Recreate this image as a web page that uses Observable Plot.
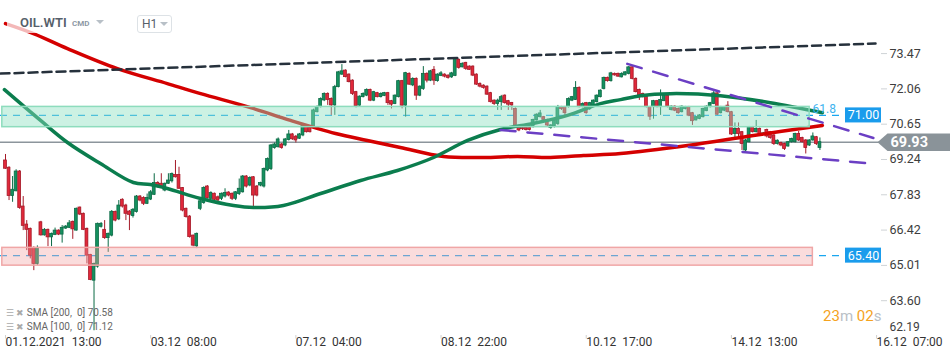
<!DOCTYPE html>
<html><head><meta charset="utf-8">
<script src="https://cdn.jsdelivr.net/npm/d3@7"></script>
<script src="https://cdn.jsdelivr.net/npm/@observablehq/plot@0.6"></script>
<style>
body{margin:0;background:#fff;font-family:Roboto,"Open Sans",sans-serif;}
#wrap{position:relative;width:950px;height:361px;overflow:hidden;background:#fff;}
.ov{position:absolute;white-space:pre;font-family:Roboto,sans-serif;}
.tri{position:absolute;width:0;height:0;border-left:4px solid transparent;border-right:4px solid transparent;border-top:4px solid #b8c0c7;}
</style></head><body><div id="wrap"></div>
<script>
// ---------- data ----------
const open = [
69.20,68.91,67.78,67.97,68.76,67.36,66.64,66.47,65.71,65.07,
66.73,66.21,66.43,66.13,66.23,66.40,66.24,66.48,66.51,66.75,
66.40,67.32,67.07,66.47,65.43,64.40,64.96,66.55,66.43,66.10,
66.20,67.14,66.85,67.63,67.40,67.16,66.98,67.14,67.76,67.70,
67.47,67.64,67.83,68.30,68.27,68.00,68.27,68.37,68.62,68.62,
68.10,67.27,66.96,66.20,65.77,67.27,67.50,68.16,67.67,67.87,
67.73,67.67,67.76,67.92,67.87,67.67,67.86,67.93,68.56,68.20,
68.53,68.16,68.20,68.16,68.80,68.86,69.70,69.73,69.84,69.80,
70.02,70.24,70.15,70.07,70.20,70.53,70.53,70.53,71.13,71.33,
71.60,71.86,71.66,71.40,72.13,72.63,72.79,72.63,72.39,71.93,
71.39,71.73,71.79,72.02,71.59,71.89,71.73,71.78,71.89,71.57,
71.46,71.73,72.37,71.39,72.66,72.20,72.46,71.79,72.06,72.66,
72.39,72.82,72.37,72.58,72.63,72.59,72.52,72.58,73.22,72.92,
73.10,72.95,72.95,72.63,72.26,72.19,72.15,71.89,71.59,71.46,
71.53,71.79,71.57,71.50,71.26,70.53,70.50,70.50,70.50,70.53,
70.80,70.93,70.93,70.82,70.50,70.56,70.66,71.33,71.33,71.33,
71.59,71.62,72.10,71.33,71.49,71.26,71.39,71.53,71.73,72.06,
72.50,72.37,72.66,72.66,72.52,72.60,72.66,72.92,72.46,72.02,
71.86,71.75,71.33,71.33,71.57,71.33,71.57,71.79,71.22,71.35,
71.26,71.13,71.26,71.33,71.09,70.80,70.86,70.93,71.17,71.33,
71.46,71.88,71.09,71.19,71.39,71.13,70.26,70.46,70.33,69.60,
69.93,70.53,70.33,70.46,70.23,70.42,70.33,70.20,69.86,69.90,
69.86,69.76,69.93,69.93,70.26,70.10,70.00,69.80,70.00,70.13,
69.70];
const close = [
68.87,67.78,68.03,68.76,67.30,66.59,66.43,65.40,65.07,65.71,
66.21,66.43,66.13,66.27,66.40,66.24,66.51,66.56,66.69,66.45,
67.27,67.04,66.43,65.40,64.43,65.07,66.67,66.67,66.10,66.27,
67.15,66.80,67.40,67.36,67.07,67.03,67.23,67.76,67.60,67.47,
67.70,67.93,68.30,68.16,68.13,68.27,68.40,68.66,68.53,68.07,
67.20,66.94,66.14,65.80,66.27,67.57,68.10,67.70,67.90,67.63,
67.60,67.87,67.90,67.80,67.67,67.93,68.07,68.56,68.16,68.50,
67.80,67.80,68.30,68.86,69.26,69.80,69.84,70.04,69.70,70.04,
70.24,70.05,70.00,70.24,70.60,70.33,70.33,71.20,71.33,71.66,
71.86,71.62,71.40,72.13,72.72,72.76,72.53,72.33,71.86,71.37,
71.75,71.86,72.02,71.59,71.93,71.73,71.86,71.89,71.49,71.43,
71.79,72.37,71.39,72.69,72.23,72.46,71.79,72.15,72.66,72.39,
72.76,72.39,72.63,72.68,72.55,72.50,72.68,73.26,72.90,73.06,
72.86,72.82,72.59,72.23,72.15,72.10,71.83,71.53,71.46,71.59,
71.73,71.49,71.43,71.40,70.60,70.40,70.45,70.42,70.42,70.82,
71.03,71.08,70.82,70.60,70.60,70.80,71.33,71.26,71.09,71.66,
71.73,72.10,71.33,71.46,71.09,71.49,71.59,71.79,71.99,72.50,
72.37,72.68,72.60,72.55,72.66,72.72,72.92,72.46,71.93,71.79,
71.73,71.33,70.95,71.57,71.35,71.62,71.79,71.35,71.35,71.19,
71.09,71.35,71.33,70.99,70.77,70.93,71.00,71.26,71.35,71.49,
71.88,71.03,71.33,71.33,71.13,70.24,70.46,70.26,69.86,70.00,
70.53,70.33,70.46,70.26,70.28,70.16,70.10,69.86,69.99,69.80,
69.66,69.93,70.06,70.26,70.00,69.93,69.70,70.00,70.16,69.86,
69.93];
const high = [
69.44,68.95,68.56,68.83,68.80,67.76,66.80,66.50,65.75,65.79,
66.77,66.48,66.46,66.30,66.50,66.43,66.60,66.60,66.80,66.78,
67.30,67.34,67.10,66.50,65.45,65.10,66.70,66.72,66.80,66.30,
67.20,67.18,67.60,67.67,67.45,67.20,67.28,67.80,67.80,67.75,
67.86,68.00,68.67,68.35,68.67,68.30,68.67,68.70,69.20,68.93,
68.12,67.30,67.00,66.22,66.30,67.60,68.15,68.20,67.95,67.90,
67.78,67.90,68.07,67.95,67.90,67.96,68.46,68.60,68.60,68.55,
68.56,68.20,68.33,68.90,69.30,69.84,69.90,70.10,69.88,70.08,
70.40,70.28,70.20,70.28,70.65,70.56,70.56,71.25,71.38,71.70,
71.90,71.90,71.70,72.20,72.76,73.03,72.82,72.66,72.42,71.96,
71.78,71.90,72.06,72.05,71.96,71.92,71.90,71.92,71.92,71.60,
71.82,72.40,72.40,72.72,72.70,72.50,72.50,72.18,72.95,72.70,
72.80,72.95,72.66,72.75,72.66,72.62,72.72,73.30,73.26,73.10,
73.12,72.98,72.98,72.66,72.30,72.22,72.18,71.92,71.62,71.65,
71.80,71.82,71.60,71.52,71.30,70.56,70.53,70.53,70.53,70.85,
71.06,71.20,70.96,70.85,70.63,70.83,71.40,71.36,71.36,71.70,
71.76,72.35,72.14,71.50,71.52,71.52,71.62,71.82,72.02,72.53,
72.53,72.72,72.69,72.69,72.70,72.75,72.95,72.95,72.50,72.05,
71.89,71.78,71.36,71.60,71.60,72.02,71.82,71.82,71.38,71.38,
71.30,71.38,71.36,71.36,71.12,70.96,71.03,71.29,71.38,71.52,
71.95,71.92,71.36,71.36,71.55,71.16,70.70,70.70,70.36,70.05,
70.56,70.56,70.80,70.50,70.32,70.45,70.36,70.23,70.02,69.93,
69.89,69.96,70.09,70.29,70.36,70.13,70.03,70.03,70.30,70.16,
70.10];
const low = [
68.85,67.60,67.53,67.95,67.25,66.40,65.60,65.27,64.80,65.00,
66.18,66.18,65.76,65.76,66.20,66.20,65.90,66.45,66.48,66.05,
66.38,67.00,66.40,65.07,64.40,62.40,64.90,66.50,66.05,65.53,
66.15,66.75,66.80,67.30,66.80,66.40,66.90,67.10,67.55,67.40,
67.44,67.60,67.80,68.10,68.10,67.95,68.25,68.30,68.50,68.05,
67.15,66.90,66.10,65.75,65.68,67.20,67.45,67.65,67.60,67.55,
67.55,67.60,67.70,67.75,67.60,67.60,67.80,67.90,68.10,68.15,
67.33,67.75,68.15,68.10,68.75,68.80,69.65,69.70,69.65,69.75,
69.98,70.00,69.90,70.04,70.15,70.30,70.30,70.50,71.10,71.30,
71.55,71.40,71.00,71.00,72.10,72.60,72.50,72.30,71.80,71.30,
71.35,71.70,71.75,71.55,71.55,71.70,71.70,71.75,71.40,71.26,
71.43,71.70,71.26,70.93,72.20,72.15,71.60,71.75,72.00,72.30,
72.35,72.20,72.33,72.55,72.50,72.45,72.48,72.55,72.85,72.90,
72.80,72.80,72.55,72.20,72.10,72.05,71.80,71.50,71.40,71.20,
71.20,71.45,71.20,71.20,70.50,70.35,70.40,70.38,70.38,70.50,
70.78,70.90,70.80,70.55,70.45,70.50,70.60,71.20,71.00,71.30,
71.55,71.60,71.30,71.30,71.05,71.20,71.35,71.50,71.70,72.02,
72.33,72.33,72.57,72.52,72.50,72.58,72.62,72.42,71.90,71.60,
71.70,71.30,70.80,70.85,71.30,71.00,71.55,71.30,71.18,71.15,
71.05,71.10,71.22,70.95,70.60,70.78,70.83,70.90,71.15,71.30,
71.43,71.00,71.06,71.15,71.10,70.20,70.00,70.10,69.60,69.55,
69.90,70.30,70.30,70.20,70.20,70.10,70.05,69.80,69.82,69.75,
69.60,69.73,69.90,69.90,69.96,69.90,69.46,69.76,69.97,69.80,
69.60];

// SMA lines: bar index and value
const sma200Idx = [0,7.9,17.5,31.6,45.7,55.1,69.2,80.5,93.2,102.2,111.5,123.7,135.0,144.6,153.9,163.2,173.7,192.6,211.2,230.7];
const sma200Val = [74.67,74.27,73.67,72.87,72.27,71.87,71.31,70.80,70.28,70.00,69.72,69.36,69.32,69.36,69.32,69.40,69.48,69.80,70.20,70.60];
const sma100Idx = [-0.3,9.9,17.5,26.8,36.1,40.9,45.7,55.1,64.4,70.0,78.5,89.0,100.3,110.7,120.9,130.5,139.8,149.1,158.7,168.0,173.7,179.3,187.8,201.9,216.0,230.7];
const sma100Val = [72.03,70.80,69.92,69.08,68.32,68.24,68.08,67.68,67.40,67.32,67.40,67.88,68.40,68.80,69.32,70.00,70.44,70.68,71.00,71.47,71.63,71.79,71.87,71.79,71.51,71.11];

// trend lines [index, price]
const trendBlack = [[-1.41,72.67],[245.7,73.87]];
const trendPurpleUp = [[175.6,73.06],[245.1,70.10]];
const trendPurpleLow = [[139.8,70.42],[243.3,69.09]];

// zones [x1,x2,y1,y2] in index / price
const zoneGreen = [-0.9,227.1,70.53,71.34];
const zonePink = [-0.9,228.0,65.00,65.71];
const levels = [71.00,65.40];
const fibLabel = "61.8";
const fibY = 71.27;
const lastPrice = 69.93;

const yTicks = [73.47,72.06,70.65,69.24,67.83,66.42,65.01,63.60];
const yTickBottom = 62.19;
const xLabels = ["01.12.2021\u00a0\u00a013:00","03.12\u00a0\u00a008:00","07.12\u00a0\u00a004:00","08.12\u00a0\u00a022:00","10.12\u00a0\u00a017:00","14.12\u00a0\u00a013:00","16.12\u00a0\u00a007:00"];
const xLabelIdx = [0,41,82,123,164,205,246];

// ---------- chart ----------
const px = x => (x - 5) / 3.541;   // pixel -> bar index helper
const n = Math.min(open.length, close.length, high.length, low.length);
const candles = d3.range(n).map(i => ({i, o: open[i], c: close[i], h: high[i], l: low[i]}));
const ups = candles.filter(d => d.c >= d.o), downs = candles.filter(d => d.c < d.o);
const s200 = sma200Idx.map((x, k) => ({x, y: sma200Val[k]}));
const s100 = sma100Idx.map((x, k) => ({x, y: sma100Val[k]}));
const badge = [[px(877), lastPrice],[px(887), lastPrice + 0.35],[px(951), lastPrice + 0.35],[px(951), lastPrice - 0.35],[px(887), lastPrice - 0.35]];
const GREEN = "#14915f", GREEN_D = "#0b6a45", RED = "#e1283a", RED_D = "#a51a28";

const chart = Plot.plot({
  width: 950, height: 361,
  marginTop: 0, marginLeft: 0, marginRight: 70, marginBottom: 26,
  x: {type: "linear", domain: [px(0), px(880)], range: [0, 880], axis: null},
  y: {type: "linear", domain: [62.21, 75.59], range: [335, 0], axis: null},
  style: {fontFamily: "Roboto, sans-serif", background: "#fff", overflow: "visible"},
  marks: [
    Plot.ruleY([lastPrice], {x1: px(0), x2: px(880), stroke: "#8c959c", strokeWidth: 1.5}),
    Plot.ruleY(levels, {x1: px(0), x2: px(845), stroke: "#1aa6ef", strokeWidth: 1.3, strokeDasharray: "7,6"}),
    // candles
    Plot.ruleX(ups, {x: "i", y1: "l", y2: "h", stroke: GREEN_D, strokeWidth: 1}),
    Plot.ruleX(downs, {x: "i", y1: "l", y2: "h", stroke: RED_D, strokeWidth: 1}),
    Plot.rect(ups, {x1: d => d.i - 0.4, x2: d => d.i + 0.4, y1: "o", y2: "c", fill: GREEN, stroke: GREEN_D, strokeWidth: 0.8}),
    Plot.rect(downs, {x1: d => d.i - 0.4, x2: d => d.i + 0.4, y1: "o", y2: "c", fill: RED, stroke: RED_D, strokeWidth: 0.8}),
    // SMAs
    Plot.line(s200, {x: "x", y: "y", stroke: "#d40000", strokeWidth: 3.5, curve: "catmull-rom"}),
    Plot.line(s100, {x: "x", y: "y", stroke: "#0b7d4e", strokeWidth: 3.5, curve: "catmull-rom"}),
    // zones
    Plot.rect([zoneGreen], {x1: d => d[0], x2: d => d[1], y1: d => d[2], y2: d => d[3], fill: "#8fe0c0", fillOpacity: 0.45, stroke: "#8ddcbd", strokeWidth: 1.5}),
    Plot.rect([zonePink], {x1: d => d[0], x2: d => d[1], y1: d => d[2], y2: d => d[3], fill: "#f3a3a3", fillOpacity: 0.38, stroke: "#f0a6a6", strokeWidth: 1.5}),
    // trend lines
    Plot.line(trendBlack, {x: d => d[0], y: d => d[1], stroke: "#26313c", strokeWidth: 2.5, strokeDasharray: "9,5"}),
    Plot.line(trendPurpleUp, {x: d => d[0], y: d => d[1], stroke: "#6b3fc4", strokeWidth: 2.5, strokeDasharray: "15,12"}),
    Plot.line(trendPurpleLow, {x: d => d[0], y: d => d[1], stroke: "#6b3fc4", strokeWidth: 2.5, strokeDasharray: "15,12"}),
    // fib label
    Plot.text([fibLabel], {x: px(812), y: fibY, text: d => d, textAnchor: "start", fill: "#3db3ef", fontSize: 12}),
    // level badges
    Plot.rect(levels, {x1: px(845), x2: px(881), y1: d => d - 0.3, y2: d => d + 0.3, fill: "#1a9cec"}),
    Plot.text(levels, {x: px(863), y: d => d, text: d => d.toFixed(2), fill: "#fff", fontSize: 12.5}),
    // current price badge
    Plot.line(badge, {x: d => d[0], y: d => d[1], fill: "#8a9399", stroke: "none"}),
    Plot.text([lastPrice], {x: px(890), y: d => d, text: d => d.toFixed(2), fill: "#fff", fontSize: 14.5, fontWeight: "bold", textAnchor: "start"}),
    // y axis
    Plot.ruleY(yTicks, {x1: px(881), x2: px(887), stroke: "#cfd3d6"}),
    Plot.text(yTicks, {x: px(889), y: d => d, text: d => d.toFixed(2), textAnchor: "start", fill: "#3d3d3d", fontSize: 12.5}),
    Plot.text([yTickBottom], {x: px(889), y: d => d, text: d => d.toFixed(2), textAnchor: "start", fill: "#3d3d3d", fontSize: 12, dy: -9}),
    // x axis
    Plot.ruleX(xLabelIdx, {y1: 62.21, y2: 62.07, stroke: "#d0d0d0"}),
    Plot.text(xLabelIdx, {x: d => d, text: (d, k) => xLabels[k], frameAnchor: "bottom", dy: 10, textAnchor: "start", fill: "#333", fontSize: 12})
  ]
});
const wrap = document.getElementById("wrap");
chart.style.position = "absolute"; chart.style.left = "0"; chart.style.top = "0";
wrap.appendChild(chart);

// header / legend / countdown overlays
const html = `
<div class="ov" style="left:7px;top:9px;width:104px;height:24px;background:rgba(255,255,255,0.72)"></div>
<div class="ov" style="left:20px;top:15px;font-size:13px;font-weight:600;color:#56606a">OIL.WTI</div>
<div class="ov" style="left:72px;top:19px;font-size:8px;font-weight:700;color:#8d99a5">CMD</div>
<div class="tri" style="left:96px;top:20px"></div>
<div class="ov" style="left:137px;top:15px;width:33px;height:16px;border:1px solid #dde2e6;border-radius:3px;background:#fff"></div>
<div class="ov" style="left:142px;top:17px;font-size:12px;color:#56606a">H1</div>
<div class="tri" style="left:160px;top:22px"></div>
<div class="ov" style="left:6px;top:307px;font-size:10px;color:#666"><span style="color:#aaa;font-size:9px">☰ ✖</span> SMA [200,  0] 70.58</div>
<div class="ov" style="left:6px;top:321px;font-size:10px;color:#666"><span style="color:#aaa;font-size:9px">☰ ✖</span> SMA [100,  0] 71.12</div>
<div class="ov" style="left:823px;top:307px;font-size:15px;color:#f5a31e">23<span style="color:#b9c0c6">m</span> 02<span style="color:#b9c0c6">s</span></div>
`;
wrap.insertAdjacentHTML("beforeend", html);
</script>
</body></html>
